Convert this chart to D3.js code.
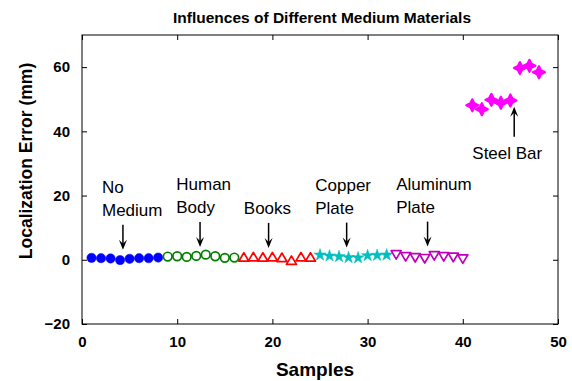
<!DOCTYPE html>
<html>
<head>
<meta charset="utf-8">
<script src="https://cdn.jsdelivr.net/npm/d3@7"></script>
<style>
  html, body { margin: 0; padding: 0; background: #fff; }
  svg { display: block; font-family: "Liberation Sans", Arial, sans-serif; }
</style>
</head>
<body>
<svg id="chart" width="572" height="381"></svg>
<script>
// Localization error (mm) for each sample, grouped by medium
const noMedium   = [0.6, 0.5, 0.4, -0.1, 0.3, 0.5, 0.5, 0.7];
const humanBody  = [1.0, 1.1, 0.9, 1.2, 1.6, 1.1, 0.6, 0.7];
const books      = [0.8, 0.9, 0.8, 0.9, 0.7, -0.2, 0.9, 0.8];
const copper     = [1.5, 1.2, 1.0, 0.7, 0.6, 1.3, 1.4, 1.5];
const aluminum   = [1.6, 1.0, 0.7, 0.4, 1.3, 1.0, 0.8, 0.3];
const steelBar   = [48.1, 46.9, 49.8, 48.9, 49.6, 59.7, 60.4, 58.4];

const xTicks = [0, 10, 20, 30, 40, 50];
const yTicks = [-20, 0, 20, 40, 60];

const groups = [
  { name: "noMedium", values: noMedium, start: 1,  color: "#0000ff", shape: "circleFilled" },
  { name: "humanBody", values: humanBody, start: 9,  color: "#008000", shape: "circleOpen" },
  { name: "books", values: books, start: 17, color: "#ff0000", shape: "triUp" },
  { name: "copper", values: copper, start: 25, color: "#00bfbf", shape: "star" },
  { name: "aluminum", values: aluminum, start: 33, color: "#bf00bf", shape: "triDown" },
  { name: "steel", values: steelBar, start: 41, color: "#ff00ff", shape: "plusDiamond" }
];

// Label text lines, anchor sample, and arrow tip value
const labels = [
  { lines: ["No", "Medium"], x: 4.3, tip: 0.3, textX: 2.1, up: false },
  { lines: ["Human", "Body"], x: 12.4, tip: 1.2, textX: 9.9, up: false },
  { lines: ["Books"], x: 19.6, tip: 0.9, textX: 17.0, up: false },
  { lines: ["Copper", "Plate"], x: 27.8, tip: 1.0, textX: 24.5, up: false },
  { lines: ["Aluminum", "Plate"], x: 36.3, tip: 1.3, textX: 33.0, up: false },
  { lines: ["Steel Bar"], x: 45.4, tip: 48.6, textX: 41.0, up: true }
];

const svg = d3.select("#chart");
const m = { left: 82, right: 14, top: 35, bottom: 57 };
const W = 572, H = 381;

const x = d3.scaleLinear().domain([0, 50]).range([m.left, W - m.right]);
const y = d3.scaleLinear().domain([-20, 70]).range([H - m.bottom, m.top]);

// Title
svg.append("text")
  .attr("x", 322).attr("y", 23)
  .attr("text-anchor", "middle")
  .attr("font-size", 15.5).attr("font-weight", "bold")
  .text("Influences of Different Medium Materials");

// Axes (ticks pointing inward, box on all sides)
const axisStyle = g => {
  g.selectAll(".domain").remove();
  g.selectAll("text").attr("font-size", 15).attr("font-weight", "bold")
    .attr("font-family", "Liberation Sans, Arial, sans-serif").attr("fill", "#000");
  g.selectAll("line").attr("stroke", "#000");
};

svg.append("g").attr("transform", `translate(0,${y(-20)})`)
  .call(d3.axisBottom(x).tickValues(xTicks).tickSize(-5).tickPadding(12))
  .call(axisStyle);
svg.append("g").attr("transform", `translate(${x(0)},0)`)
  .call(d3.axisLeft(y).tickValues(yTicks).tickSize(-5).tickPadding(12))
  .call(axisStyle);
svg.append("g").attr("transform", `translate(0,${y(70)})`)
  .call(d3.axisTop(x).tickValues(xTicks).tickSize(-5).tickFormat(""))
  .call(axisStyle);
svg.append("g").attr("transform", `translate(${x(50)},0)`)
  .call(d3.axisRight(y).tickValues(yTicks).tickSize(-5).tickFormat(""))
  .call(axisStyle);

svg.append("rect")
  .attr("x", x(0)).attr("y", y(70))
  .attr("width", x(50) - x(0)).attr("height", y(-20) - y(70))
  .attr("fill", "none").attr("stroke", "#000").attr("stroke-width", 1);

// Axis titles
svg.append("text")
  .attr("x", 315).attr("y", 376)
  .attr("text-anchor", "middle")
  .attr("font-size", 19).attr("font-weight", "bold")
  .text("Samples");
svg.append("text")
  .attr("transform", `translate(32,161) rotate(-90)`)
  .attr("text-anchor", "middle")
  .attr("font-size", 17.5).attr("font-weight", "bold")
  .text("Localization Error (mm)");

// Marker shapes
const shapes = {
  circleFilled: d3.symbol(d3.symbolCircle, 68)(),
  circleOpen: d3.symbol(d3.symbolCircle, 58)(),
  triUp: "M0,-4.5L5,4L-5,4Z",
  triDown: "M0,4.5L5,-4L-5,-4Z",
  star: d3.symbol(d3.symbolStar, 46)(),
  plusDiamond: "M0,-6L2,-2L6,0L2,2L0,6L-2,2L-6,0L-2,-2Z"
};

groups.forEach(gr => {
  const pts = gr.values.map((v, i) => ({ s: gr.start + i, v }));
  const filled = gr.shape === "circleFilled" || gr.shape === "star" || gr.shape === "plusDiamond";
  svg.append("g").selectAll("path").data(pts).join("path")
    .attr("transform", d => `translate(${x(d.s)},${y(d.v)})`)
    .attr("d", shapes[gr.shape])
    .attr("fill", filled ? gr.color : "none")
    .attr("stroke", gr.color)
    .attr("stroke-width", filled ? (gr.shape === "plusDiamond" ? 2.2 : 0.5) : 1.7)
    .attr("stroke-linejoin", "round");
});

// Annotations with arrows
const arrowHead = (tx, ty, dir) => {
  // dir = 1 points down, -1 points up
  const L = 10, w = 4, n = 6;
  return `M${tx},${ty}L${tx - w},${ty - dir * L}L${tx},${ty - dir * n}L${tx + w},${ty - dir * L}Z`;
};

labels.forEach(lb => {
  const g = svg.append("g");
  const ax = x(lb.x);
  if (!lb.up) {
    const tipY = y(lb.tip) - 9;
    const tailY = tipY - 25;
    g.append("line").attr("x1", ax).attr("x2", ax).attr("y1", tailY).attr("y2", tipY - 4)
      .attr("stroke", "#000").attr("stroke-width", 1.5);
    g.append("path").attr("d", arrowHead(ax, tipY, 1)).attr("fill", "#000");
    const n = lb.lines.length;
    lb.lines.forEach((t, i) => {
      g.append("text").attr("x", x(lb.textX)).attr("y", tailY - 9 - (n - 1 - i) * 23)
        .attr("font-size", 17).text(t);
    });
  } else {
    const tipY = y(lb.tip) + 3;
    const tailY = tipY + 30;
    g.append("line").attr("x1", ax).attr("x2", ax).attr("y1", tailY).attr("y2", tipY + 4)
      .attr("stroke", "#000").attr("stroke-width", 1.5);
    g.append("path").attr("d", arrowHead(ax, tipY, -1)).attr("fill", "#000");
    g.append("text").attr("x", x(lb.textX)).attr("y", tailY + 22)
      .attr("font-size", 17).text(lb.lines[0]);
  }
});
</script>
</body>
</html>
